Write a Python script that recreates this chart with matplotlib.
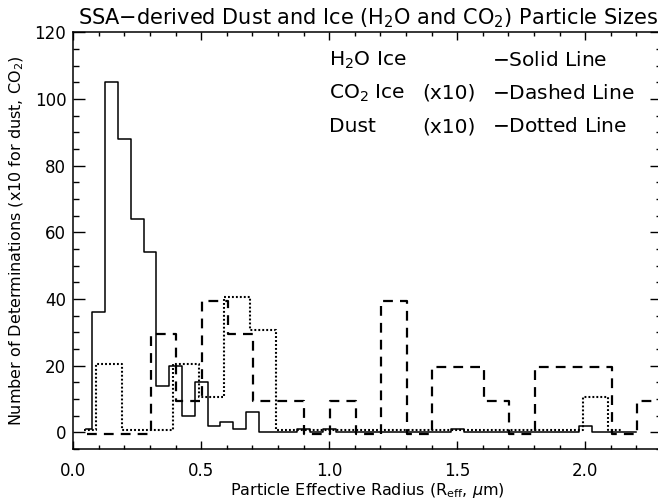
import numpy as np
import matplotlib
matplotlib.use("Agg")
import matplotlib.pyplot as plt
from matplotlib.ticker import MultipleLocator

# H2O ice particle size histogram (bin centres every 0.05 um)
h2o_centers = np.round(np.arange(0.05, 2.2001, 0.05), 3)
h2o_counts = [1, 36, 105, 88, 64, 54, 14, 20, 5, 15,
              2, 3, 1, 6, 0, 0, 0, 1, 0, 1,
              0, 0, 0, 0, 0, 0, 0, 0, 0, 1,
              0, 0, 0, 0, 0, 0, 0, 0, 0, 2,
              0, 0, 0, 0]

# CO2 ice histogram (x10), bin centres every 0.1 um
co2_centers = np.round(np.arange(0.05, 2.2501, 0.1), 3)
co2_counts_x10 = [0, 0, 0, 30, 10, 40, 30, 10, 10, 0,
                  10, 0, 40, 0, 20, 20, 10, 0, 20, 20,
                  20, 0, 10]

# Dust histogram (x10), bin centres every 0.1 um
dust_centers = np.round(np.arange(0.05, 2.1501, 0.1), 3)
dust_counts_x10 = [0, 20, 0, 0, 20, 10, 40, 30, 0, 0,
                   0, 0, 0, 0, 0, 0, 0, 0, 0, 0,
                   10, 0]

XMIN, XMAX = 0.0, 2.3
YMIN, YMAX = -5, 120

fig = plt.figure(figsize=(6.58, 5.0), dpi=100)
ax = fig.add_axes([0.1114, 0.102, 0.8947, 0.8334])

# Small offsets keep overlapping histograms distinguishable
ax.step(h2o_centers, h2o_counts, where="mid", color="black", lw=1.1)

co2_x = np.append(co2_centers + 0.003, XMAX + 0.05)
co2_y = np.append(np.array(co2_counts_x10, float), co2_counts_x10[-1]) - 0.5
ax.step(co2_x, co2_y, where="mid", color="black", lw=1.6,
        linestyle=(0, (4.4, 3.2)))

ax.step(dust_centers - 0.01, np.array(dust_counts_x10, float) + 0.6,
        where="mid", color="black", lw=1.5, linestyle=(0, (0.9, 1.0)))

ax.set_xlim(XMIN, XMAX)
ax.set_ylim(YMIN, YMAX)
ax.xaxis.set_major_locator(MultipleLocator(0.5))
ax.xaxis.set_minor_locator(MultipleLocator(0.1))
ax.yaxis.set_major_locator(MultipleLocator(20))
ax.yaxis.set_minor_locator(MultipleLocator(5))
ax.set_xticks([0.0, 0.5, 1.0, 1.5, 2.0])
ax.set_xticklabels(["0.0", "0.5", "1.0", "1.5", "2.0"])

ax.tick_params(which="both", direction="in", top=True, right=True,
               width=1.0, colors="black", labelsize=12)
ax.tick_params(axis="x", which="major", length=6.0, pad=9.5)
ax.tick_params(axis="x", which="minor", length=3.0)
ax.tick_params(axis="y", which="major", length=8.5, pad=5)
ax.tick_params(axis="y", which="minor", length=4.25)
for sp in ax.spines.values():
    sp.set_linewidth(1.1)

ax.set_title(r"SSA$-$derived Dust and Ice (H$_2$O and CO$_2$) Particle Sizes",
             fontsize=15, pad=6)
ax.set_xlabel(r"Particle Effective Radius (R$_{\rm eff}$, $\mu$m)",
              fontsize=11.5)
ax.xaxis.set_label_coords(0.5, -0.076)
ax.set_ylabel(r"Number of Determinations (x10 for dust, CO$_2$)",
              fontsize=11.5, labelpad=6)

rows = [
    (0.933, r"H$_2$O Ice", "", r"$-$Solid Line"),
    (0.854, r"CO$_2$ Ice", "(x10)", r"$-$Dashed Line"),
    (0.773, "Dust", "(x10)", r"$-$Dotted Line"),
]
for y, name, scale, style in rows:
    ax.text(0.434, y, name, transform=ax.transAxes, fontsize=14.5, va="center")
    ax.text(0.592, y, scale, transform=ax.transAxes, fontsize=14.5, va="center")
    ax.text(0.711, y, style, transform=ax.transAxes, fontsize=14.5, va="center")

fig.savefig("out.png", dpi=100)
